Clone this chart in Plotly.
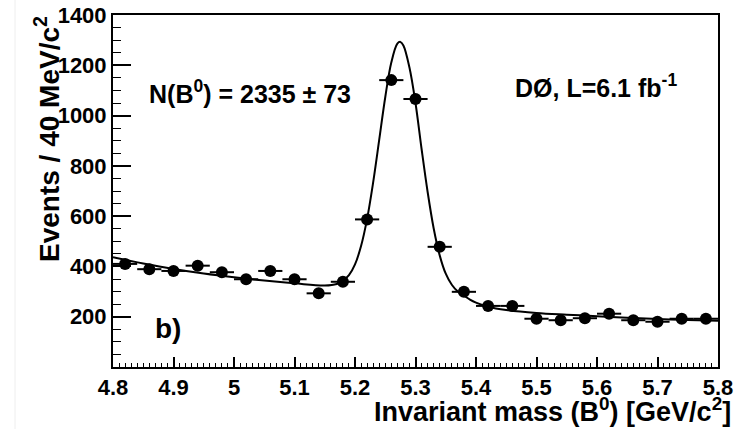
import plotly.graph_objects as go

# ---- data ----
mass_centers = [4.82, 4.86, 4.90, 4.94, 4.98, 5.02, 5.06, 5.10, 5.14, 5.18,
                5.22, 5.26, 5.30, 5.34, 5.38, 5.42, 5.46, 5.50, 5.54, 5.58,
                5.62, 5.66, 5.70, 5.74, 5.78]
events = [410, 389, 382, 403, 377, 349, 382, 349, 293, 339,
          587, 1141, 1066, 478, 299, 243, 243, 192, 186, 194,
          212, 186, 180, 192, 192]
bin_half_width = [0.02] * len(mass_centers)

fit_mass = [4.80, 4.85, 4.90, 4.95, 5.00, 5.05, 5.10, 5.15, 5.17, 5.18, 5.19,
            5.20, 5.21, 5.22, 5.23, 5.24, 5.25, 5.26, 5.27, 5.275, 5.28, 5.29,
            5.30, 5.31, 5.32, 5.33, 5.34, 5.35, 5.36, 5.37, 5.38, 5.39, 5.40,
            5.42, 5.45, 5.50, 5.55, 5.60, 5.65, 5.70, 5.75, 5.80]
fit_events = [437, 412, 390, 372, 357, 344, 333, 324, 330, 343, 365,
              408, 481, 589, 734, 903, 1073, 1211, 1286, 1293, 1279, 1191,
              1050, 868, 697, 552, 444, 371, 327, 300, 284, 268, 256,
              240, 227, 215, 208, 202, 196, 191, 187, 184]

x_tickvals = [4.8, 4.9, 5.0, 5.1, 5.2, 5.3, 5.4, 5.5, 5.6, 5.7, 5.8]
x_ticktext = ["4.8", "4.9", "5", "5.1", "5.2", "5.3", "5.4", "5.5", "5.6", "5.7", "5.8"]
y_tickvals = [200, 400, 600, 800, 1000, 1200, 1400]
y_ticktext = ["200", "400", "600", "800", "1000", "1200", "1400"]

FONT = "Liberation Sans, Arial, Helvetica, sans-serif"

fig = go.Figure()
fig.add_trace(go.Scatter(
    x=fit_mass, y=fit_events, mode="lines",
    line=dict(color="black", width=2, shape="spline"),
    hoverinfo="skip", showlegend=False))
fig.add_trace(go.Scatter(
    x=mass_centers, y=events, mode="markers",
    marker=dict(color="black", size=12, symbol="circle"),
    error_x=dict(type="data", array=bin_half_width, color="black",
                 thickness=2, width=0),
    showlegend=False))

fig.update_layout(
    width=752, height=429,
    margin=dict(l=113, r=34, t=15, b=62, autoexpand=False),
    paper_bgcolor="white", plot_bgcolor="white",
    font=dict(family=FONT, color="black", size=22, weight="bold"),
    showlegend=False,
)
fig.update_xaxes(
    range=[4.8, 5.8], tickmode="array", tickvals=x_tickvals, ticktext=x_ticktext,
    ticks="inside", ticklen=10, tickwidth=1.5, tickcolor="black",
    minor=dict(tickmode="linear", tick0=4.8, dtick=0.01, ticks="inside",
               ticklen=4, tickwidth=1, tickcolor="black"),
    showline=True, linecolor="black", linewidth=2, mirror=True,
    showgrid=False, zeroline=False, automargin=False,
    tickfont=dict(family=FONT, size=22, weight="bold", color="black"),
)
fig.update_yaxes(
    range=[0, 1400], tickmode="array", tickvals=y_tickvals, ticktext=y_ticktext,
    ticks="inside", ticklen=18, tickwidth=1.5, tickcolor="black",
    minor=dict(tickmode="linear", tick0=0, dtick=50, ticks="inside",
               ticklen=8, tickwidth=1, tickcolor="black"),
    showline=True, linecolor="black", linewidth=2, mirror=True,
    showgrid=False, zeroline=False, automargin=False,
    tickfont=dict(family=FONT, size=22, weight="bold", color="black"),
)

# axis titles as annotations (ROOT style: aligned to axis end)
fig.add_annotation(
    text="Invariant mass (B<sup>0</sup>) [GeV/c<sup>2</sup>]",
    xref="paper", yref="paper", x=(733 - 113) / 605, y=(367 - 410) / 352,
    xanchor="right", yanchor="middle", showarrow=False,
    font=dict(family=FONT, size=27, weight="bold", color="black"))
fig.add_annotation(
    text="Events / 40 MeV/c<sup>2</sup>",
    xref="paper", yref="paper", x=(47 - 113) / 605, y=(367 - 139) / 352,
    xanchor="center", yanchor="middle", textangle=-90, showarrow=False,
    font=dict(family=FONT, size=28, weight="bold", color="black"))

fig.add_annotation(
    text="N(B<sup>0</sup>) = 2335 ± 73",
    xref="paper", yref="paper", x=(147 - 113) / 605, y=(367 - 92) / 352,
    xanchor="left", yanchor="middle", showarrow=False,
    font=dict(family=FONT, size=25, weight="bold", color="black"))
fig.add_annotation(
    text="DØ, L=6.1 fb<sup>-1</sup>",
    xref="paper", yref="paper", x=(513 - 113) / 605, y=(367 - 86) / 352,
    xanchor="left", yanchor="middle", showarrow=False,
    font=dict(family=FONT, size=25, weight="bold", color="black"))
fig.add_annotation(
    text="b)",
    xref="paper", yref="paper", x=(153 - 113) / 605, y=(367 - 328) / 352,
    xanchor="left", yanchor="middle", showarrow=False,
    font=dict(family=FONT, size=28, weight="bold", color="black"))

# faint border line at the far left of the image
fig.add_shape(type="line", xref="paper", yref="paper",
              x0=(15 - 113) / 605, x1=(15 - 113) / 605, y0=-62 / 352, y1=1 + 15 / 352,
              line=dict(color="#eeeeee", width=1))

fig.write_html("out.html", config={"displayModeBar": False},
               post_script="document.body.style.margin='0px';")
